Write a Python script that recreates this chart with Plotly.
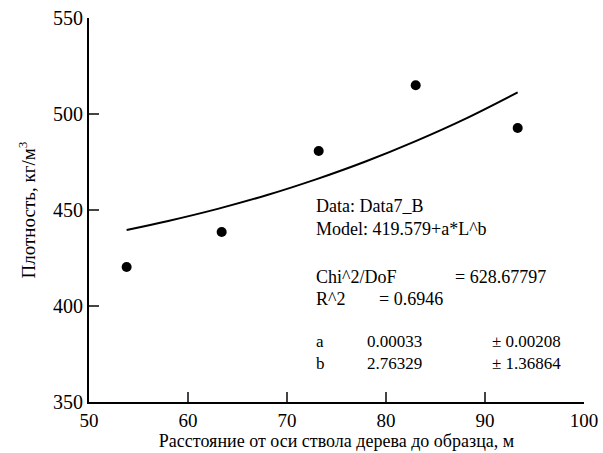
import plotly.graph_objects as go

# Measured data points
dist = [53.8, 63.4, 73.2, 83.0, 93.3]
density = [420.3, 438.5, 480.7, 515.0, 492.7]

# Fitted curve, values
fit_x = [53.8, 58.0, 63.0, 68.0, 73.0, 78.0, 83.0, 88.0, 93.3]
fit_y = [439.6, 444.3, 450.6, 457.8, 466.1, 475.4, 485.9, 497.5, 511.3]

x_ticks = [50, 60, 70, 80, 90, 100]
y_ticks = [350, 400, 450, 500, 550]

FONT = "Liberation Serif"

fig = go.Figure()
fig.add_trace(go.Scatter(x=fit_x, y=fit_y, mode="lines", line=dict(color="black", width=2, shape="spline"),
                         showlegend=False, hoverinfo="skip"))
fig.add_trace(go.Scatter(x=dist, y=density, mode="markers",
                         marker=dict(color="black", size=10), showlegend=False))

# Fit report text: (text, x, y)
rows = [
    ("Data: Data7_B", 72.7, 452.1),
    ("Model: 419.579+a*L^b", 72.7, 440.1),
    ("Chi^2/DoF", 72.7, 415.3),
    ("= 628.67797", 86.8, 415.3),
    ("R^2", 72.7, 403.7),
    ("= 0.6946", 79.1, 403.7),
    ("a<br>b", 72.7, 376.0),
    ("0.00033<br>2.76329", 77.9, 376.0),
    ("± 0.00208<br>± 1.36864", 90.5, 376.0),
]
for t, x, y in rows:
    fig.add_annotation(x=x, y=y, xref="x", yref="y", text=t, showarrow=False,
                       xanchor="left", yanchor="middle", align="left",
                       font=dict(family=FONT, size=18 if "<br>" not in t else 17, color="black"))

fig.update_layout(
    width=603, height=453,
    margin=dict(l=89, r=19, t=18, b=51),
    paper_bgcolor="white", plot_bgcolor="white",
    font=dict(family=FONT, color="black"),
)
fig.update_xaxes(range=[50, 100], tickvals=x_ticks, ticks="inside", ticklen=10, tickwidth=2,
                 showline=True, linewidth=2, linecolor="black", showgrid=False, zeroline=False,
                 automargin=False,
                 tickfont=dict(size=19), title=dict(text="Расстояние от оси ствола дерева до образца, м",
                                                     font=dict(size=18), standoff=0))
fig.update_yaxes(range=[350, 550], tickvals=y_ticks, ticks="inside", ticklen=10, tickwidth=2,
                 showline=True, linewidth=2, linecolor="black", showgrid=False, zeroline=False,
                 automargin=False,
                 tickfont=dict(size=20), title=dict(text="Плотность, кг/м<sup>3</sup>",
                                                     font=dict(size=19), standoff=12))

fig.write_html("out.html")
